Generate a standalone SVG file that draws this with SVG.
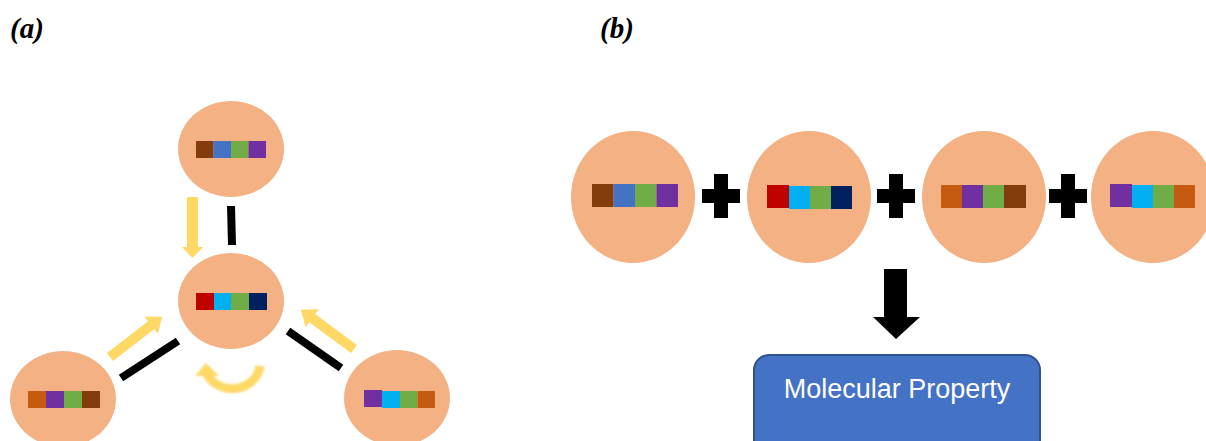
<svg xmlns="http://www.w3.org/2000/svg" width="1206" height="441" viewBox="0 0 1206 441">
  <style>
    .mol { fill: #F4B183; }
    .label { font-family: "Liberation Serif", "Times New Roman", serif; font-weight: bold; font-style: italic; font-size: 29px; fill: #000; }
    .yarrow { fill: #FFD966; }
    .bond { stroke: #000; stroke-width: 8; }
    .plus { fill: #000; }
    .c-brown { fill: #843C0C; }
    .c-blue { fill: #4472C4; }
    .c-green { fill: #70AD47; }
    .c-purple { fill: #7030A0; }
    .c-red { fill: #C00000; }
    .c-cyan { fill: #00B0F0; }
    .c-navy { fill: #002060; }
    .c-orange { fill: #C55A11; }
    .prop-box { fill: #4472C4; stroke: #2F528F; stroke-width: 2; }
    .prop-text { font-family: "Liberation Sans", Arial, sans-serif; font-size: 27px; fill: #fff; }
  </style>
  <defs>
    <filter id="soft" x="-20%" y="-20%" width="140%" height="140%">
      <feGaussianBlur stdDeviation="0.8"/>
    </filter>
  </defs>

  <rect width="1206" height="441" fill="#fff"/>

  <text class="label" x="10" y="38">(a)</text>
  <text class="label" x="600" y="38">(b)</text>

  <!-- Panel (a): connectors -->
  <g id="connectors-a">
    <!-- top to center -->
    <polygon class="yarrow" points="187,197 198,197 198,247 203,247 192.5,258 182,247 187,247"/>
    <line class="bond" x1="231" y1="206" x2="232" y2="245"/>
    <!-- bottom-left to center -->
    <g transform="translate(110,357) rotate(-37.7)">
      <polygon class="yarrow" points="0,-5 52,-5 52,-11 66,0 52,11 52,5 0,5"/>
    </g>
    <line class="bond" x1="121" y1="378" x2="178" y2="341"/>
    <!-- bottom-right to center -->
    <g transform="translate(354,349) rotate(-143.6)">
      <polygon class="yarrow" points="0,-5 52,-5 52,-11 66,0 52,11 52,5 0,5"/>
    </g>
    <line class="bond" x1="288" y1="331" x2="341" y2="368"/>
    <!-- self loop under the center molecule -->
    <g filter="url(#soft)">
      <path d="M 207 374 A 28 26 0 0 0 260 366" fill="none" stroke="#FFD966" stroke-width="9"/>
      <polygon class="yarrow" points="195,376 206,363 219,376"/>
    </g>
  </g>

  <!-- Panel (a): molecules -->
  <g id="mol-a-top">
    <ellipse class="mol" cx="231" cy="149" rx="53" ry="48"/>
    <rect class="c-brown" x="196" y="141" width="17.5" height="17"/>
    <rect class="c-blue" x="213.5" y="141" width="17.5" height="17"/>
    <rect class="c-green" x="231" y="141" width="17.5" height="17"/>
    <rect class="c-purple" x="248.5" y="141" width="17.5" height="17"/>
  </g>
  <g id="mol-a-center">
    <ellipse class="mol" cx="231" cy="301" rx="53" ry="48"/>
    <rect class="c-red" x="196" y="293" width="18" height="17"/>
    <rect class="c-cyan" x="214" y="293" width="17" height="17"/>
    <rect class="c-green" x="231" y="293" width="18" height="17"/>
    <rect class="c-navy" x="249" y="293" width="18" height="17"/>
  </g>
  <g id="mol-a-left">
    <ellipse class="mol" cx="63" cy="399" rx="53" ry="48"/>
    <rect class="c-orange" x="28" y="391" width="18" height="17"/>
    <rect class="c-purple" x="46" y="391" width="18" height="17"/>
    <rect class="c-green" x="64" y="391" width="18" height="17"/>
    <rect class="c-brown" x="82" y="391" width="18" height="17"/>
  </g>
  <g id="mol-a-right">
    <ellipse class="mol" cx="397" cy="398" rx="53" ry="48"/>
    <rect class="c-purple" x="364" y="390" width="18" height="17"/>
    <rect class="c-cyan" x="382" y="391" width="18" height="17"/>
    <rect class="c-green" x="400" y="391" width="17.5" height="17"/>
    <rect class="c-orange" x="417.5" y="391" width="17.5" height="17"/>
  </g>

  <!-- Panel (b): molecules -->
  <g id="mol-b-1">
    <ellipse class="mol" cx="633" cy="197" rx="62" ry="66"/>
    <rect class="c-brown" x="592" y="184" width="21.5" height="23"/>
    <rect class="c-blue" x="613.5" y="184" width="21.5" height="23"/>
    <rect class="c-green" x="635" y="184" width="21.5" height="23"/>
    <rect class="c-purple" x="656.5" y="184" width="21.5" height="23"/>
  </g>
  <g id="mol-b-2">
    <ellipse class="mol" cx="809" cy="197" rx="62" ry="66"/>
    <rect class="c-red" x="767" y="185" width="22" height="23"/>
    <rect class="c-cyan" x="789" y="186" width="21" height="23"/>
    <rect class="c-green" x="810" y="186" width="21" height="23"/>
    <rect class="c-navy" x="831" y="186" width="21" height="23"/>
  </g>
  <g id="mol-b-3">
    <ellipse class="mol" cx="984" cy="197" rx="62" ry="66"/>
    <rect class="c-orange" x="941" y="185" width="21" height="23"/>
    <rect class="c-purple" x="962" y="185" width="21" height="23"/>
    <rect class="c-green" x="983" y="185" width="21" height="23"/>
    <rect class="c-brown" x="1004" y="185" width="22" height="23"/>
  </g>
  <g id="mol-b-4">
    <ellipse class="mol" cx="1153" cy="197" rx="62" ry="66"/>
    <rect class="c-purple" x="1110" y="184" width="22" height="23"/>
    <rect class="c-cyan" x="1132" y="185" width="21" height="23"/>
    <rect class="c-green" x="1153" y="185" width="21" height="23"/>
    <rect class="c-orange" x="1174" y="185" width="21" height="23"/>
  </g>

  <!-- Panel (b): operators and result -->
  <g id="connectors-b">
    <path class="plus" d="M714 174h14v15h12v14h-12v15h-14v-15h-12v-14h12z"/>
    <path class="plus" d="M889 174h14v15h12v14h-12v15h-14v-15h-12v-14h12z"/>
    <path class="plus" d="M1061 174h14v15h12v14h-12v15h-14v-15h-12v-14h12z"/>
    <polygon class="plus" points="884,269 907,269 907,317 920,317 896,339 873,317 884,317"/>
  </g>
  <g id="molecular-property">
    <rect class="prop-box" x="754" y="355" width="286" height="100" rx="15"/>
    <text class="prop-text" x="897" y="398" text-anchor="middle">Molecular Property</text>
  </g>
</svg>
